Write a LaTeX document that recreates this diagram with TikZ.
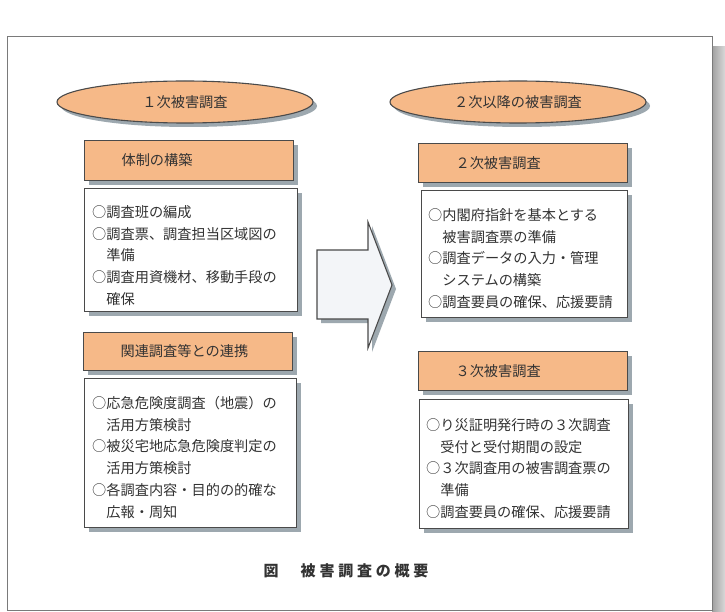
\documentclass[tikz,border=0pt]{standalone}
\usepackage{fontspec}
\setmainfont{Noto Sans CJK JP}
\usepackage{tikz}
\usetikzlibrary{positioning,shadows,shapes.geometric}
\definecolor{peachFill}{HTML}{F6B988}
\definecolor{edgeGray}{HTML}{4A4A4A}
\definecolor{shadowBlue}{HTML}{9DA8AF}
\definecolor{inkGray}{HTML}{333333}
\definecolor{arrowFill}{HTML}{F3F5F8}
\definecolor{frameGray}{HTML}{7A7A7A}

\begin{document}
\begin{tikzpicture}[x=1pt, y=-1pt,
          lifted/.style={drop shadow={shadow xshift=4pt, shadow yshift=-4pt, fill=shadowBlue, opacity=1}},
          phase/.style={ellipse, draw=edgeGray, line width=1.1pt, fill=peachFill, lifted, minimum width=256pt, minimum height=42pt, inner sep=0pt, font=\fontsize{14.2}{17}\selectfont, text=inkGray},
          head/.style={draw=edgeGray, line width=1.1pt, fill=peachFill, lifted, anchor=north west, minimum height=39pt, inner xsep=37pt, text width=135pt, align=left, font=\fontsize{14.2}{17}\selectfont, text=inkGray},
          sheet/.style={draw=edgeGray, line width=1.1pt, fill=white, lifted, anchor=north west},
          items/.style={anchor=base west, inner sep=0pt, text width=200pt, align=left, font=\fontsize{14.2}{21.75}\selectfont, text=inkGray}]
        \useasboundingbox (0,0) rectangle (725,612);
        % outer frame
        \shade[left color=gray!75, right color=gray!30] (712,47) rectangle (725,612);
        \draw[frameGray, line width=1pt, fill=white] (7,37) rectangle (712,610);
        \node[phase] (first) at (185,102) {１次被害調査};
        \node[phase] (later) at (518,102) {２次以降の被害調査};
        % left column
        \node[head, minimum height=40pt] (setup) at (84,140) {体制の構築};
        \node[sheet, minimum width=213pt, minimum height=123pt] (setupBox) at (84,188) {};
        \node[items] (setupText) at (92,217.4) {○調査班の編成\\○調査票、調査担当区域図の\\\hspace*{1em}準備\\○調査用資機材、移動手段の\\\hspace*{1em}確保};
        \node[head, minimum height=38pt] (link) at (83,332) {関連調査等との連携};
        \node[sheet, minimum width=212pt, minimum height=149pt] (linkBox) at (84,378) {};
        \node[items] (linkText) at (92,408.4) {○応急危険度調査（地震）の\\\hspace*{1em}活用方策検討\\○被災宅地応急危険度判定の\\\hspace*{1em}活用方策検討\\○各調査内容・目的の的確な\\\hspace*{1em}広報・周知};
        % big arrow
        \draw[draw=edgeGray, line width=1.1pt, fill=arrowFill, lifted] (317,250) -- (368,250) -- (368,222) -- (392,285) -- (368,348) -- (368,319) -- (317,319) -- cycle;
        % right column
        \node[head] (second) at (418,143) {２次被害調査};
        \node[sheet, minimum width=206pt, minimum height=127pt] (secondBox) at (421,190) {};
        \node[items] (secondText) at (428,220.4) {○内閣府指針を基本とする\\\hspace*{1em}被害調査票の準備\\○調査データの入力・管理\\\hspace*{1em}システムの構築\\○調査要員の確保、応援要請};
        \node[head] (third) at (418,351) {３次被害調査};
        \node[sheet, minimum width=209pt, minimum height=129pt] (thirdBox) at (419,399) {};
        \node[items] (thirdText) at (426,430.4) {○り災証明発行時の３次調査\\\hspace*{1em}受付と受付期間の設定\\○３次調査用の被害調査票の\\\hspace*{1em}準備\\○調査要員の確保、応援要請};
        \node[anchor=base west, inner sep=0pt, text=inkGray, font=\bfseries\fontsize{15}{18}\selectfont] (caption) at (263.5,576.7) {図\hspace{22pt}被\kern3.8pt 害\kern3.8pt 調\kern3.8pt 査\kern3.8pt の\kern3.8pt 概\kern3.8pt 要};
      \end{tikzpicture}
\end{document}
